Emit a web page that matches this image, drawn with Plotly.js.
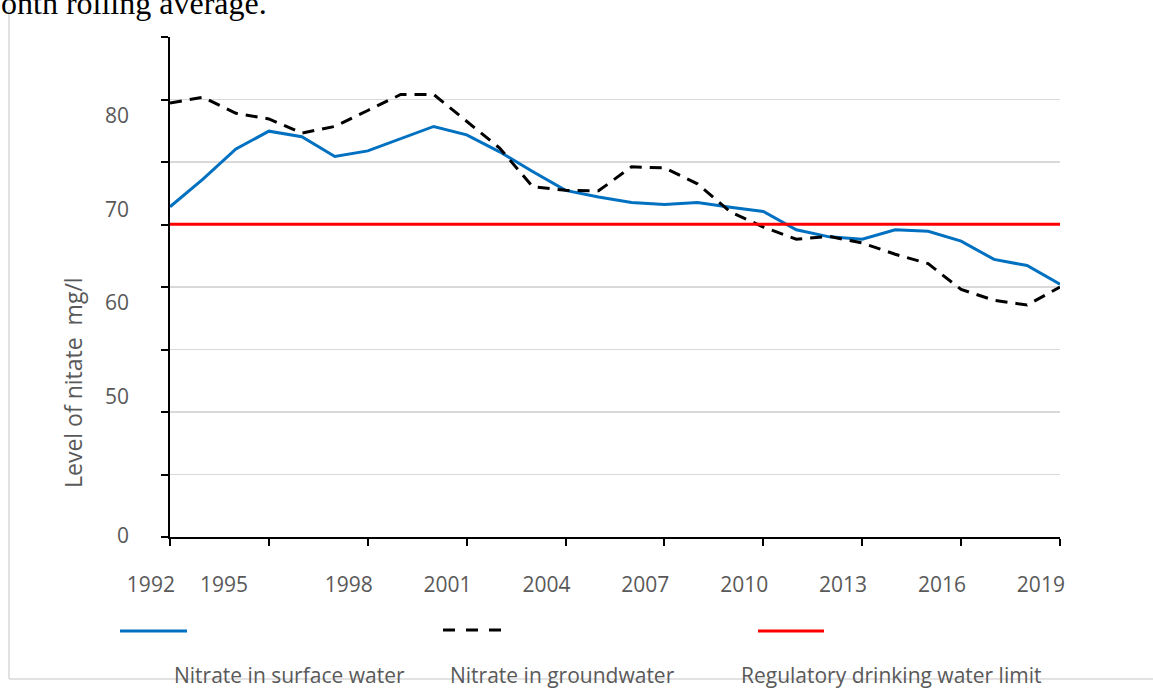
<!DOCTYPE html>
<html>
<head>
<meta charset="utf-8">
<script src="https://cdn.plot.ly/plotly-3.0.1.min.js"></script>
<style>html,body{margin:0;padding:0;background:#fff;}#chart{width:1153px;height:688px;}</style>
</head>
<body>
<div id="chart"></div>
<script>
// ---- data ----
const years = [1992,1993,1994,1995,1996,1997,1998,1999,2000,2001,2002,2003,2004,2005,2006,2007,2008,2009,2010,2011,2012,2013,2014,2015,2016,2017,2018,2019];
const surfaceWater = [70.25,73.2,76.4,78.3,77.7,75.6,76.2,77.5,78.8,77.9,76.1,74.0,72.0,71.3,70.7,70.5,70.7,70.2,69.75,67.8,67.05,66.8,67.8,67.65,66.6,64.65,64.0,62.0];
const groundWater = [81.3,81.9,80.2,79.6,78.1,78.8,80.5,82.2,82.2,79.3,76.5,72.4,72.0,71.95,74.5,74.4,72.7,69.7,68.1,66.8,67.1,66.4,65.2,64.2,61.45,60.3,59.8,61.7];
const limitValue = 68.4;
const limitSeries = years.map(() => limitValue);

const seriesNames = ['Nitrate in surface water','Nitrate in groundwater','Regulatory drinking water limit'];
const yTitle = 'Level of nitate  mg/l';
const topText = 'onth rolling average.';

// axis ticks (gridlines) and labels
const yRange = [35.11, 88.32];
const yGridVals = [35.11, 41.76, 48.41, 55.06, 61.71, 68.35, 75.00, 81.65, 88.30];
const yLabelVals = [35.3, 50, 60, 70, 80];
const yLabelText = ['0','50','60','70','80'];
const xTickVals = [1992,1995,1998,2001,2004,2007,2010,2013,2016,2019];
const xLabelVals = [1991.42,1993.64,1997.42,2000.42,2003.42,2006.42,2009.42,2012.42,2015.42,2018.42];
const xLabelText = ['1992','1995','1998','2001','2004','2007','2010','2013','2016','2019'];

// ---- geometry helpers (pixel -> paper) ----
const L = 100, R = 93, T = 37, B = 151, W = 1153, H = 688;
const pw = W - L - R, ph = H - T - B;
const px = v => (v - L) / pw;
const py = v => (H - B - v) / ph;

const grey = '#595959';
const font = 'Open Sans, Noto Sans, sans-serif';

const traces = [
  {x: years, y: surfaceWater, name: seriesNames[0], mode: 'lines', line: {color: '#0070C0', width: 3}, xaxis: 'x', yaxis: 'y'},
  {x: years, y: groundWater, name: seriesNames[1], mode: 'lines', line: {color: '#000000', width: 3, dash: '12px,8px'}, xaxis: 'x', yaxis: 'y'},
  {x: years, y: limitSeries, name: seriesNames[2], mode: 'lines', line: {color: '#FF0000', width: 3}, xaxis: 'x', yaxis: 'y'},
  {x: [1992], y: [50], xaxis: 'x2', yaxis: 'y3', mode: 'markers', marker: {opacity: 0}, showlegend: false, hoverinfo: 'skip'},
  {x: [1992], y: [50], xaxis: 'x', yaxis: 'y2', mode: 'markers', marker: {opacity: 0}, showlegend: false, hoverinfo: 'skip'}
];

const xStart = 170;
const dom0 = (xStart - L) / pw;
const pxPerYear = (pw * (1 - dom0)) / (2019 - 1992);

const layout = {
  width: W, height: H,
  margin: {l: L, r: R, t: T, b: B, pad: 0},
  paper_bgcolor: '#ffffff', plot_bgcolor: 'rgba(0,0,0,0)',
  showlegend: false,
  font: {family: font, color: grey, size: 21},
  xaxis: {
    domain: [dom0, 1], range: [1992, 2019], anchor: 'y',
    tickmode: 'array', tickvals: xTickVals, showticklabels: false,
    ticks: 'outside', ticklen: 7, tickwidth: 2, tickcolor: '#000',
    showline: true, linecolor: '#000', linewidth: 2,
    showgrid: false, zeroline: false, fixedrange: true
  },
  xaxis2: {
    domain: [0, 1], range: [1992 - (xStart - L) / pxPerYear, 2019], anchor: 'y3',
    tickmode: 'array', tickvals: xLabelVals, ticktext: xLabelText,
    ticks: '', showline: false, showgrid: false, zeroline: false,
    ticklabelstandoff: 33, tickfont: {family: font, size: 21, color: grey}
  },
  yaxis: {
    domain: [0, 1], range: yRange, anchor: 'x',
    tickmode: 'array', tickvals: yGridVals, showticklabels: false,
    ticks: 'outside', ticklen: 7, tickwidth: 2, tickcolor: '#000',
    showline: true, linecolor: '#000', linewidth: 2,
    showgrid: true, gridcolor: '#d9d9d9', gridwidth: 1.5, zeroline: false
  },
  yaxis2: {
    overlaying: 'y', anchor: 'x', side: 'left', range: yRange,
    tickmode: 'array', tickvals: yLabelVals, ticktext: yLabelText,
    ticks: '', showline: false, showgrid: false, zeroline: false,
    ticklabelstandoff: 40, tickfont: {family: font, size: 21, color: grey}
  },
  yaxis3: {
    domain: [0, 1], anchor: 'x2', range: yRange,
    showticklabels: false, ticks: '', showline: false, showgrid: false, zeroline: false
  },
  shapes: [
    // outer frame (left and bottom)
    {type: 'line', xref: 'paper', yref: 'paper', x0: px(9), x1: px(9), y0: py(10), y1: py(679), line: {color: '#d9d9d9', width: 1.5}, layer: 'below'},
    {type: 'line', xref: 'paper', yref: 'paper', x0: px(9), x1: px(1153), y0: py(679), y1: py(679), line: {color: '#d9d9d9', width: 1.5}, layer: 'below'},
    // legend swatches
    {type: 'line', xref: 'paper', yref: 'paper', x0: px(120), x1: px(187), y0: py(631), y1: py(631), line: {color: '#0070C0', width: 3}},
    {type: 'line', xref: 'paper', yref: 'paper', x0: px(443), x1: px(501), y0: py(630), y1: py(630), line: {color: '#000000', width: 3, dash: '12px,11px'}},
    {type: 'line', xref: 'paper', yref: 'paper', x0: px(758), x1: px(824), y0: py(631), y1: py(631), line: {color: '#FF0000', width: 3}}
  ],
  annotations: [
    {text: topText, xref: 'paper', yref: 'paper', x: px(-1), y: py(23), xanchor: 'left', yanchor: 'bottom', showarrow: false,
     font: {family: 'Liberation Serif, Times New Roman, serif', size: 32, color: '#000'}},
    {text: yTitle, xref: 'paper', yref: 'paper', x: px(73), y: py(383), xanchor: 'center', yanchor: 'middle', textangle: -90, showarrow: false,
     font: {family: font, size: 23, color: grey}},
    {text: seriesNames[0], xref: 'paper', yref: 'paper', x: px(289.5), y: py(675), xanchor: 'center', yanchor: 'middle', showarrow: false, font: {family: font, size: 21, color: grey}},
    {text: seriesNames[1], xref: 'paper', yref: 'paper', x: px(562), y: py(675), xanchor: 'center', yanchor: 'middle', showarrow: false, font: {family: font, size: 21, color: grey}},
    {text: seriesNames[2], xref: 'paper', yref: 'paper', x: px(891), y: py(675), xanchor: 'center', yanchor: 'middle', showarrow: false, font: {family: font, size: 21, color: grey}}
  ]
};

Plotly.newPlot('chart', traces, layout, {displayModeBar: false, staticPlot: true});
</script>
</body>
</html>
